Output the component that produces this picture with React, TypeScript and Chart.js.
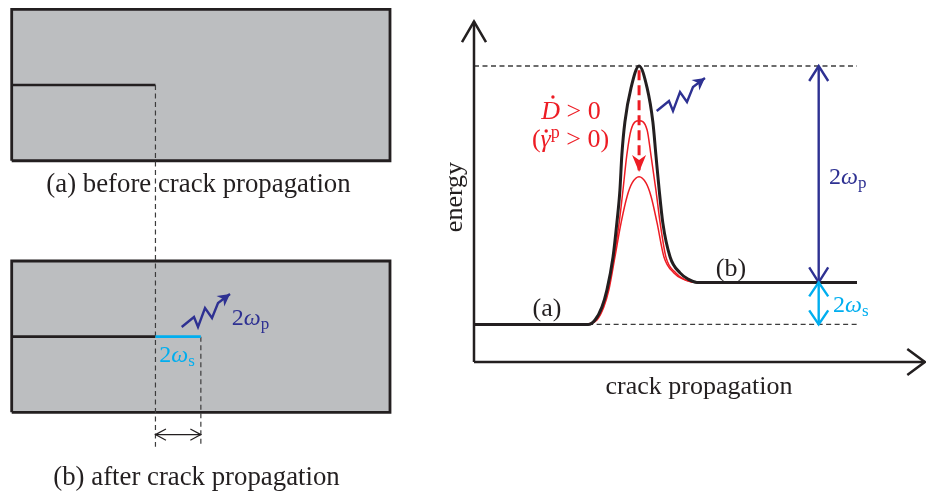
import React, { useEffect, useRef } from "react";
import { Chart, registerables } from "chart.js";

Chart.register(...registerables);

// ---------------- Left: specimen sketches (specimen length = 10 units) ----------------
const specimenX = [0, 10, 10, 0, 0];
const specimenBeforeY = [6.65, 6.65, 10.65, 10.65, 6.65];
const specimenAfterY = [0, 0, 4, 4, 0];
const specimenTopEdgeX = [0, 10];
const specimenBeforeTopY = [10.65, 10.65];
const specimenAfterTopY = [4, 4];
const specimenBeforeBottom = 6.65;
const specimenAfterBottom = 0;
const crackBeforeX = [0, 3.8];
const crackBeforeY = [8.65, 8.65];
const crackAfterX = [0, 3.8];
const crackAfterY = [2, 2];
const crackGrowthX = [3.8, 5.0];
const crackGrowthY = [2, 2];
const tipGuideX = [3.8, 3.8];
const tipGuideY = [8.65, -0.91];
const growthGuideX = [5.0, 5.0];
const growthGuideY = [2, -0.91];
const growthSpanX = [3.8, 5.0];
const growthSpanY = [-0.59, -0.59];
const photonLeftX = [4.494, 4.819, 4.925, 5.11, 5.295, 5.454, 5.771];
const photonLeftY = [2.255, 2.519, 2.255, 2.757, 2.493, 2.889, 3.127];

// ---------------- Right: energy vs crack propagation ----------------
const energyX = [0, 2.98, 3.16, 3.34, 3.47, 3.63, 3.73, 3.81, 3.86, 3.94, 4.1, 4.31, 4.52, 4.67, 4.75, 4.83, 4.93, 5.12, 5.38, 5.59, 5.82, 10];
const energyY = [1.27, 1.27, 1.42, 1.86, 2.43, 3.55, 4.7, 5.81, 6.99, 8.11, 9.26, 10.0, 9.26, 8.11, 6.99, 5.88, 4.7, 3.55, 3.01, 2.8, 2.69, 2.69];
const damagedAX = [2.98, 3.19, 3.37, 3.5, 3.66, 3.79, 3.89, 3.99, 4.1, 4.31, 4.52, 4.62, 4.75, 4.86, 5.01, 5.27, 5.48, 5.74];
const damagedAY = [1.27, 1.42, 1.86, 2.43, 3.55, 4.7, 5.81, 6.99, 7.84, 8.15, 7.84, 6.99, 5.81, 4.7, 3.55, 3.01, 2.8, 2.69];
const damagedBX = [2.98, 3.21, 3.39, 3.52, 3.68, 3.84, 4.0, 4.13, 4.31, 4.49, 4.62, 4.78, 4.96, 5.22, 5.46, 5.72];
const damagedBY = [1.27, 1.42, 1.86, 2.43, 3.55, 4.7, 5.61, 6.05, 6.26, 6.05, 5.61, 4.7, 3.55, 3.01, 2.8, 2.69];
const peakLevelX = [0, 10];
const peakLevelY = [10, 10];
const initialLevelX = [2.98, 10];
const initialLevelY = [1.27, 1.27];
const axisYX = [0, 0];
const axisYY = [0, 11.5];
const axisXX = [0, 11.77];
const axisXY = [0, 0];
const plasticArrowX = [9, 9];
const plasticArrowY = [10, 2.69];
const surfaceArrowX = [9, 9];
const surfaceArrowY = [2.69, 1.27];
const damageArrowX = [4.31, 4.31];
const damageArrowY = [9.86, 6.42];
const photonRightX = [4.77, 5.091, 5.196, 5.379, 5.561, 5.718, 6.031];
const photonRightY = [8.48, 8.818, 8.48, 9.122, 8.784, 9.291, 9.595];

// ---------------- styles ----------------
const BLACK = "#231f20";
const GRAY_FILL = "#bcbec0";
const BLUE = "#2e3192";
const CYAN = "#00aeef";
const RED = "#ed1c24";
const DASH = "#3c3c3c";
const SERIF = '"Liberation Serif", "Times New Roman", serif';
const font = (size: number, italic = false) => `${italic ? "italic " : ""}${size}px ${SERIF}`;

type Run = { t: string; font: string; dy?: number; dot?: { fx: number; h: number; r: number } };
type Label = { x: number; y: number; align: "left" | "center"; color: string; runs: Run[]; rotate?: number };
type Head = { at: "start" | "end"; len: number; half: number; filled?: boolean; width?: number };

const omegaRuns = (sub: string, size = 24): Run[] => [
  { t: "2", font: font(size) },
  { t: "ω", font: font(size, true) },
  { t: sub, font: font(Math.round(size * 0.7)), dy: Math.round(size * 0.18) },
];

const leftLabels: Label[] = [
  { x: 4.938, y: 5.823, align: "center", color: BLACK, runs: [{ t: "(a) before crack propagation", font: font(26.8) }] },
  { x: 4.885, y: -1.922, align: "center", color: BLACK, runs: [{ t: "(b) after crack propagation", font: font(26.8) }] },
  { x: 3.902, y: 1.338, align: "left", color: CYAN, runs: omegaRuns("s") },
  { x: 5.815, y: 2.308, align: "left", color: BLUE, runs: omegaRuns("p") },
];

const rightLabels: Label[] = [
  { x: 1.906, y: 1.554, align: "center", color: BLACK, runs: [{ t: "(a)", font: font(26) }] },
  { x: 6.71, y: 2.905, align: "center", color: BLACK, runs: [{ t: "(b)", font: font(26) }] },
  { x: 5.875, y: -1.081, align: "center", color: BLACK, runs: [{ t: "crack propagation", font: font(26) }] },
  { x: -0.313, y: 5.574, align: "center", color: BLACK, rotate: -Math.PI / 2, runs: [{ t: "energy", font: font(26) }] },
  { x: 9.269, y: 6.014, align: "left", color: BLUE, runs: omegaRuns("p") },
  { x: 9.373, y: 1.689, align: "left", color: CYAN, runs: omegaRuns("s") },
  {
    x: 2.533, y: 8.209, align: "center", color: RED,
    runs: [{ t: "D", font: font(26, true), dot: { fx: 0.62, h: 22, r: 1.7 } }, { t: " > 0", font: font(26) }],
  },
  {
    x: 2.52, y: 7.264, align: "center", color: RED,
    runs: [
      { t: "(", font: font(26) },
      { t: "γ", font: font(26, true), dot: { fx: 0.55, h: 16, r: 1.7 } },
      { t: "p", font: font(18), dy: -9 },
      { t: " > 0)", font: font(26) },
    ],
  },
];

const pts = (xs: number[], ys: number[]) => xs.map((x, i) => ({ x, y: ys[i] }));

const line = (xs: number[], ys: number[], color: string, width: number, extra: any = {}) => ({
  data: pts(xs, ys),
  borderColor: color,
  backgroundColor: color,
  borderWidth: width,
  pointRadius: 0,
  pointHoverRadius: 0,
  fill: false,
  tension: 0,
  borderJoinStyle: "miter",
  ...extra,
});

function drawHead(ctx: CanvasRenderingContext2D, x: number, y: number, ang: number, h: Head, color: string, lw: number) {
  const c = Math.cos(ang);
  const s = Math.sin(ang);
  const bx = x - c * h.len;
  const by = y - s * h.len;
  const lx = bx - s * h.half;
  const ly = by + c * h.half;
  const rx = bx + s * h.half;
  const ry = by - c * h.half;
  ctx.save();
  ctx.setLineDash([]);
  if (h.filled) {
    const nx = x - c * h.len * 0.7;
    const ny = y - s * h.len * 0.7;
    ctx.fillStyle = color;
    ctx.beginPath();
    ctx.moveTo(x, y);
    ctx.lineTo(lx, ly);
    ctx.lineTo(nx, ny);
    ctx.lineTo(rx, ry);
    ctx.closePath();
    ctx.fill();
  } else {
    ctx.strokeStyle = color;
    ctx.lineWidth = h.width ?? lw;
    ctx.lineJoin = "miter";
    ctx.beginPath();
    ctx.moveTo(lx, ly);
    ctx.lineTo(x, y);
    ctx.lineTo(rx, ry);
    ctx.stroke();
  }
  ctx.restore();
}

const arrowPlugin = {
  id: "sketchArrows",
  afterDatasetsDraw(chart: any) {
    const ctx = chart.ctx as CanvasRenderingContext2D;
    chart.data.datasets.forEach((ds: any, i: number) => {
      const heads: Head[] | undefined = ds.heads;
      if (!heads) return;
      const p = chart.getDatasetMeta(i).data;
      heads.forEach((h) => {
        const a = h.at === "end" ? p[p.length - 2] : p[1];
        const b = h.at === "end" ? p[p.length - 1] : p[0];
        const ang = Math.atan2(b.y - a.y, b.x - a.x);
        drawHead(ctx, b.x, b.y, ang, h, ds.borderColor, ds.borderWidth);
      });
    });
  },
};

function labelPlugin(labels: Label[]) {
  return {
    id: "sketchLabels",
    afterDraw(chart: any) {
      const ctx = chart.ctx as CanvasRenderingContext2D;
      const xs = chart.scales.x;
      const ys = chart.scales.y;
      labels.forEach((lab) => {
        ctx.save();
        ctx.translate(xs.getPixelForValue(lab.x), ys.getPixelForValue(lab.y));
        if (lab.rotate) ctx.rotate(lab.rotate);
        ctx.fillStyle = lab.color;
        ctx.textAlign = "left";
        ctx.textBaseline = "alphabetic";
        let total = 0;
        lab.runs.forEach((r) => {
          ctx.font = r.font;
          total += ctx.measureText(r.t).width;
        });
        let x = lab.align === "center" ? -total / 2 : 0;
        lab.runs.forEach((r) => {
          ctx.font = r.font;
          const w = ctx.measureText(r.t).width;
          ctx.fillText(r.t, x, r.dy ?? 0);
          if (r.dot) {
            ctx.beginPath();
            ctx.arc(x + w * r.dot.fx, -r.dot.h, r.dot.r, 0, Math.PI * 2);
            ctx.fill();
          }
          x += w;
        });
        ctx.restore();
      });
    },
  };
}

function baseOptions(xMin: number, xMax: number, yMin: number, yMax: number) {
  return {
    animation: false as const,
    responsive: false,
    maintainAspectRatio: false,
    devicePixelRatio: 1,
    events: [],
    layout: { padding: 0 },
    plugins: { legend: { display: false }, tooltip: { enabled: false }, title: { display: false } },
    scales: {
      x: { type: "linear" as const, min: xMin, max: xMax, display: false },
      y: { type: "linear" as const, min: yMin, max: yMax, display: false },
    },
  };
}

function leftConfig(): any {
  return {
    type: "line",
    data: {
      datasets: [
        line(photonLeftX, photonLeftY, BLUE, 2.4, { order: 0, heads: [{ at: "end", len: 12, half: 6.5, filled: true }] }),
        line(crackGrowthX, crackGrowthY, CYAN, 2.6, { order: 1 }),
        line(growthSpanX, growthSpanY, BLACK, 1.2, {
          order: 1,
          heads: [
            { at: "start", len: 10.5, half: 5.7 },
            { at: "end", len: 10.5, half: 5.7 },
          ],
        }),
        line(tipGuideX, tipGuideY, DASH, 1.2, { order: 2, borderDash: [5, 3.5] }),
        line(growthGuideX, growthGuideY, DASH, 1.2, { order: 2, borderDash: [5, 3.5] }),
        line(crackBeforeX, crackBeforeY, BLACK, 2.6, { order: 3 }),
        line(crackAfterX, crackAfterY, BLACK, 2.6, { order: 3 }),
        line(specimenX, specimenBeforeY, BLACK, 2.8, { order: 4 }),
        line(specimenX, specimenAfterY, BLACK, 2.8, { order: 4 }),
        line(specimenTopEdgeX, specimenBeforeTopY, GRAY_FILL, 0, {
          order: 5,
          backgroundColor: GRAY_FILL,
          fill: { value: specimenBeforeBottom },
        }),
        line(specimenTopEdgeX, specimenAfterTopY, GRAY_FILL, 0, {
          order: 5,
          backgroundColor: GRAY_FILL,
          fill: { value: specimenAfterBottom },
        }),
      ],
    },
    options: baseOptions(-0.3093, 11.0045, -2.3447, 10.8987),
    plugins: [arrowPlugin, labelPlugin(leftLabels)],
  };
}

function rightConfig(): any {
  return {
    type: "line",
    data: {
      datasets: [
        line(energyX, energyY, BLACK, 3, { order: 0, cubicInterpolationMode: "monotone", borderJoinStyle: "round" }),
        line(photonRightX, photonRightY, BLUE, 2.4, { order: 0, heads: [{ at: "end", len: 12, half: 6.5, filled: true }] }),
        line(damageArrowX, damageArrowY, RED, 3, {
          order: 1,
          borderDash: [10, 5],
          heads: [{ at: "end", len: 17, half: 7, filled: true }],
        }),
        line(damagedAX, damagedAY, RED, 1.5, { order: 2, cubicInterpolationMode: "monotone" }),
        line(damagedBX, damagedBY, RED, 1.5, { order: 2, cubicInterpolationMode: "monotone" }),
        line(plasticArrowX, plasticArrowY, BLUE, 2.4, {
          order: 1,
          heads: [
            { at: "start", len: 15, half: 9.5 },
            { at: "end", len: 15, half: 9.5 },
          ],
        }),
        line(surfaceArrowX, surfaceArrowY, CYAN, 2.4, {
          order: 1,
          heads: [
            { at: "start", len: 14, half: 9.5 },
            { at: "end", len: 14, half: 9.5 },
          ],
        }),
        line(peakLevelX, peakLevelY, DASH, 1.3, { order: 3, borderDash: [5, 3.5] }),
        line(initialLevelX, initialLevelY, DASH, 1.3, { order: 3, borderDash: [5, 3.5] }),
        line(axisYX, axisYY, BLACK, 2.5, { order: 1, heads: [{ at: "end", len: 20.5, half: 12 }] }),
        line(axisXX, axisXY, BLACK, 2.5, { order: 1, heads: [{ at: "end", len: 17.5, half: 13 }] }),
      ],
    },
    options: baseOptions(-0.8877, 11.8016, -4.6959, 12.2297),
    plugins: [arrowPlugin, labelPlugin(rightLabels)],
  };
}

export default function App() {
  const leftRef = useRef<HTMLCanvasElement>(null);
  const rightRef = useRef<HTMLCanvasElement>(null);

  useEffect(() => {
    if (!leftRef.current || !rightRef.current) return;
    const left = new Chart(leftRef.current, leftConfig());
    const right = new Chart(rightRef.current, rightConfig());
    return () => {
      left.destroy();
      right.destroy();
    };
  }, []);

  return (
    <div style={{ position: "fixed", left: 0, top: 0, width: 926, height: 501, background: "#ffffff" }}>
      <canvas
        ref={leftRef}
        width={428}
        height={501}
        style={{ position: "absolute", left: 0, top: 0, width: 428, height: 501 }}
      />
      <canvas
        ref={rightRef}
        width={486}
        height={501}
        style={{ position: "absolute", left: 440, top: 0, width: 486, height: 501 }}
      />
    </div>
  );
}
